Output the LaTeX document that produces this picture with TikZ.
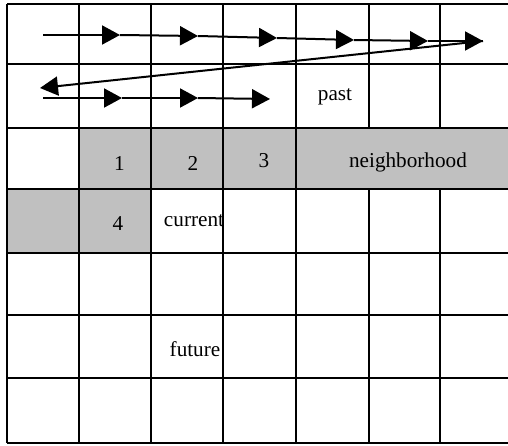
\documentclass[tikz,border=0pt]{standalone}
\usepackage{fontspec}
\setmainfont{Liberation Serif}
\usepackage{xcolor}
\usepackage{tikz}
\usetikzlibrary{arrows.meta}
\definecolor{cellgray}{HTML}{C0C0C0}

\begin{document}
\begin{tikzpicture}[
      x=0.5pt, y=-0.5pt,
      gridline/.style={draw, line width=1pt},
      shade/.style={fill=cellgray},
      lbl/.style={font=\fontsize{10.6}{12}\selectfont, inner sep=0pt, anchor=base},
      flow/.style={line width=1pt, -{Triangle[length=9pt, width=9.5pt]}}]
    \useasboundingbox (0,0) rectangle (508,445);
    % shaded cells: the neighbourhood row and the two cells left of current
    \fill[shade] (79,128) rectangle (508,189);
    \fill[shade] (7,189) rectangle (151,253);
    % grid
    \foreach \y in {4,64,128,189,253,315,378,443}
      \draw[gridline] (7,\y) -- (508,\y);
    \foreach \x in {7,79,151,223,296}
      \draw[gridline] (\x,4) -- (\x,443);
    % the last two columns are merged in the neighbourhood row
    \foreach \x in {369,440} {
      \draw[gridline] (\x,4) -- (\x,128);
      \draw[gridline] (\x,189) -- (\x,443);
    }
    % texts
    \node[lbl] (one)   at (119.5,170) {1};
    \node[lbl] (two)   at (193,170)   {2};
    \node[lbl] (three) at (264,167)   {3};
    \node[lbl] (nbhd)  at (408,167)   {neighborhood};
    \node[lbl] (four)  at (118,230)   {4};
    \node[lbl] (cur)   at (194,226)   {current};
    \node[lbl] (past)  at (335,100)   {past};
    \node[lbl] (fut)   at (195,356)   {future};
    % scan order, first row
    \coordinate (a0) at (43,35);
    \coordinate (a1) at (120,35);
    \coordinate (a2) at (198,36);
    \coordinate (a3) at (277,38);
    \coordinate (a4) at (354,40);
    \coordinate (a5) at (428,41);
    \coordinate (a6) at (483,41);
    \draw[flow] (a0) -- (a1);
    \draw[flow] (a1) -- (a2);
    \draw[flow] (a2) -- (a3);
    \draw[flow] (a3) -- (a4);
    \draw[flow] (a4) -- (a5);
    \draw[flow] (a5) -- (a6);
    % back to the start of the second row
    \coordinate (ret) at (40,88);
    \draw[flow] (a6) -- (ret);
    % second row, up to the current cell
    \coordinate (b0) at (43,98);
    \coordinate (b1) at (122,98);
    \coordinate (b2) at (198,98);
    \coordinate (b3) at (270,99);
    \draw[flow] (b0) -- (b1);
    \draw[flow] (b1) -- (b2);
    \draw[flow] (b2) -- (b3);
  \end{tikzpicture}
\end{document}
